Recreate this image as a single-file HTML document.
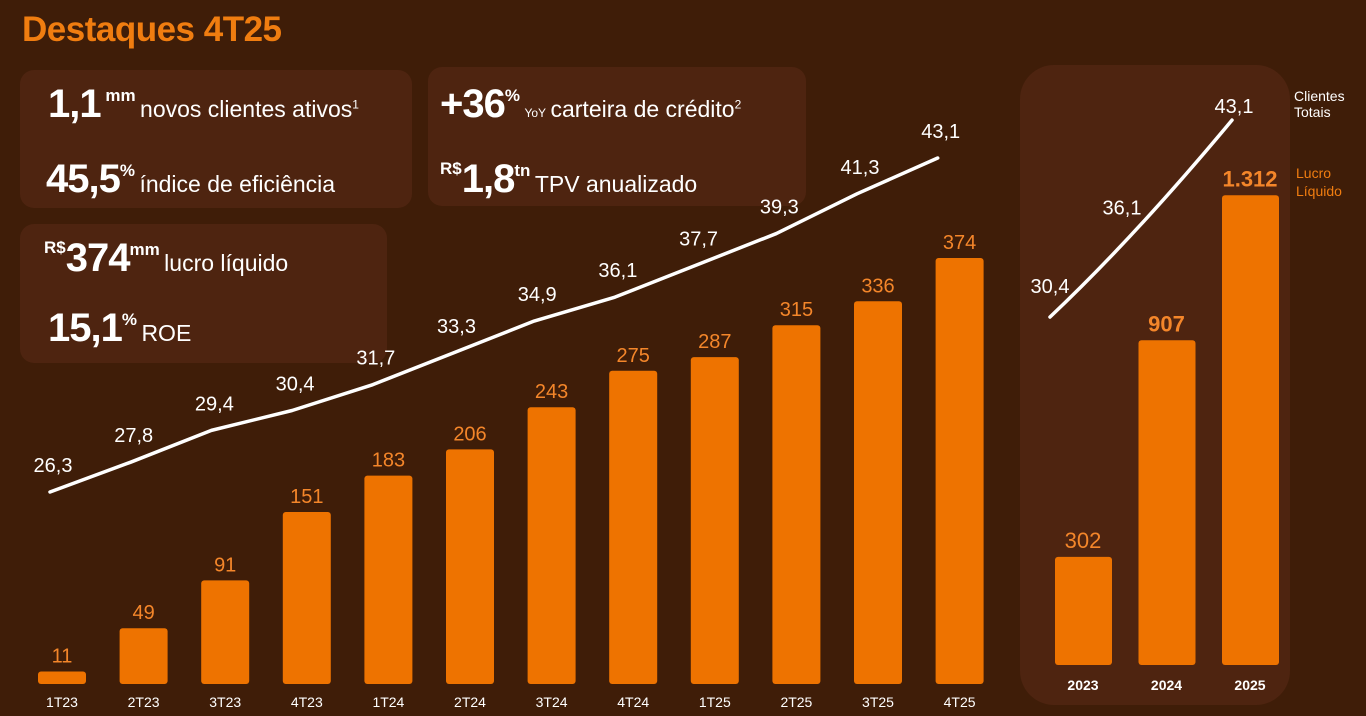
<!DOCTYPE html>
<html><head><meta charset="utf-8">
<style>
html,body{margin:0;padding:0}
body{width:1366px;height:716px;background:#3f1d08;overflow:hidden;font-family:"Liberation Sans",sans-serif;position:relative}
.box{position:absolute;background:#4e2410;border-radius:14px}
.t{position:absolute;color:#fff;white-space:nowrap;font-family:"Liberation Sans Narrow","Liberation Sans",sans-serif}
.big{font-weight:bold;font-size:40px;letter-spacing:-1px}
.sm{font-size:17px;font-weight:bold;vertical-align:top;position:relative;top:4px}
.lbl{font-size:23px}
</style></head>
<body>
<div style="position:absolute;left:22px;top:10px;color:#f07d10;font-size:35px;font-weight:bold;letter-spacing:-0.5px">Destaques 4T25</div>

<div class="box" style="left:20px;top:70px;width:392px;height:138px"></div>
<div class="box" style="left:428px;top:67px;width:378px;height:139px"></div>
<div class="box" style="left:20px;top:224px;width:367px;height:139px"></div>

<div class="t" style="left:48px;top:82px"><span class="big">1,1</span><span class="sm"> mm</span> <span class="lbl">novos clientes ativos<sup style="font-size:12px">1</sup></span></div>
<div class="t" style="left:46px;top:157px"><span class="big">45,5</span><span class="sm">%</span> <span class="lbl">índice de eficiência</span></div>
<div class="t" style="left:440px;top:82px"><span class="big">+36</span><span class="sm">%</span> <span style="font-size:12px">YoY</span> <span class="lbl">carteira de crédito<sup style="font-size:12px">2</sup></span></div>
<div class="t" style="left:440px;top:157px"><span class="sm" style="top:2px">R$</span><span class="big">1,8</span><span class="sm">tn</span> <span class="lbl">TPV anualizado</span></div>
<div class="t" style="left:44px;top:236px"><span class="sm" style="top:2px">R$</span><span class="big">374</span><span class="sm">mm</span> <span class="lbl">lucro líquido</span></div>
<div class="t" style="left:48px;top:306px"><span class="big">15,1</span><span class="sm">%</span> <span class="lbl">ROE</span></div>

<div class="box" style="left:1020px;top:65px;width:270px;height:640px;border-radius:34px"></div>
<div class="t" style="left:1294px;top:88px;font-family:'Liberation Sans',sans-serif;font-size:14px;line-height:16px">Clientes<br>Totais</div>
<div class="t" style="left:1296px;top:164px;color:#f07d10;font-family:'Liberation Sans',sans-serif;font-size:14px;line-height:18px">Lucro<br>Líquido</div>

<svg id="chart" width="1366" height="716" style="position:absolute;left:0;top:0"></svg>

<script>
const quarters=["1T23","2T23","3T23","4T23","1T24","2T24","3T24","4T24","1T25","2T25","3T25","4T25"];
const profitQ=[11,49,91,151,183,206,243,275,287,315,336,374];
const clientsQ=[26.3,27.8,29.4,30.4,31.7,33.3,34.9,36.1,37.7,39.3,41.3,43.1];
const years=["2023","2024","2025"];
const profitY=[302,907,1312];
const profitYLabels=["302","907","1.312"];
const clientsY=[30.4,36.1,43.1];

const NS="http://www.w3.org/2000/svg";
const svg=document.getElementById("chart");
function mk(tag,attrs,txt){const e=document.createElementNS(NS,tag);for(const k in attrs)e.setAttribute(k,attrs[k]);if(txt!==undefined)e.textContent=txt;svg.appendChild(e);return e;}
const fmt=v=>v.toFixed(1).replace(".",",");

// quarterly
const qx=i=>62+i*81.6;
const qBase=684;
const qy=v=>qBase-v*1.139;
const lx=i=>50+i*80.7;
const ly=v=>492-(v-26.3)*19.88;
quarters.forEach((q,i)=>{
  const top=qy(profitQ[i]);
  const b=mk("rect",{x:qx(i)-24,y:top,width:48,height:qBase-top,rx:3,fill:"#ee7300"});
  
  
  const t=mk("text",{x:qx(i),y:top-9,"text-anchor":"middle",fill:"#f4862a","font-size":20,"font-family":"Liberation Sans, sans-serif"},String(profitQ[i]));
  
  
  const c=mk("text",{x:qx(i),y:707,"text-anchor":"middle",fill:"#fff","font-size":14,"font-family":"Liberation Sans, sans-serif"},q);
  
  
});
let d="";
clientsQ.forEach((v,i)=>{d+=(i?"L":"M")+lx(i)+","+ly(v)+" ";});
const line=mk("path",{d:d,fill:"none",stroke:"#fff","stroke-width":3.5,"stroke-linejoin":"round","stroke-linecap":"round"});


clientsQ.forEach((v,i)=>{
  const t=mk("text",{x:lx(i)+3,y:ly(v)-20,"text-anchor":"middle",fill:"#fff","font-size":20,"font-family":"Liberation Sans, sans-serif"},fmt(v));
  
  
});

// annual
const yx=i=>1083+i*83.5;
const yBase=665;
const yy=v=>yBase-v*0.358;
years.forEach((y,i)=>{
  const top=yy(profitY[i]);
  const b=mk("rect",{x:yx(i)-28,y:top,width:57,height:yBase-top,rx:3,fill:"#ee7300"});
  
  
  const t=mk("text",{x:yx(i),y:top-9,"text-anchor":"middle",fill:"#f4862a","font-size":22,"font-weight":i?"bold":"normal","font-family":"Liberation Sans, sans-serif"},profitYLabels[i]);
  
  
  const c=mk("text",{x:yx(i),y:690,"text-anchor":"middle",fill:"#fff","font-size":14,"font-weight":"bold","font-family":"Liberation Sans, sans-serif"},y);
  
  
});
const ax=i=>1050+i*91;
const ay=v=>317-(v-30.4)*15.5;
let d2="M"+ax(0)+","+ay(clientsY[0])+" Q"+(ax(1)-6)+","+(ay(clientsY[1])+8)+" "+ax(2)+","+ay(clientsY[2]);
const l2=mk("path",{d:d2,fill:"none",stroke:"#fff","stroke-width":3.5,"stroke-linecap":"round"});


const lblOff=[[0,-24],[-19,-14],[2,-7]];
clientsY.forEach((v,i)=>{
  const t=mk("text",{x:ax(i)+lblOff[i][0],y:ay(v)+lblOff[i][1],"text-anchor":"middle",fill:"#fff","font-size":20,"font-family":"Liberation Sans, sans-serif"},fmt(v));
  
  
});
</script>
</body></html>
